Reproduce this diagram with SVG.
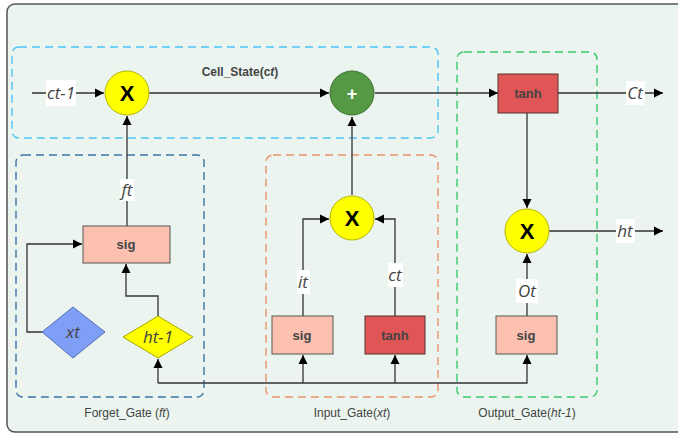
<svg xmlns="http://www.w3.org/2000/svg" width="678" height="434" viewBox="0 0 678 434">
<defs>
<marker id="arr" markerWidth="10" markerHeight="10" refX="9" refY="5" orient="auto" markerUnits="userSpaceOnUse">
<path d="M0,0.5 L9,5 L0,9.5 Z" fill="#000"/>
</marker>
<style>
.edge{fill:none;stroke:#333;stroke-width:1.3}
.box{stroke-width:1.4;fill:none;stroke-dasharray:8 5}
.mul{fill:#ffff00;stroke:#b5b500;stroke-width:1}
.opx{font-family:"Liberation Sans",Arial,sans-serif;font-weight:bold;font-size:22px;fill:#000;text-anchor:middle}
.sig{fill:#fbc0b0;stroke:#555;stroke-width:1}
.tanh{fill:#e05555;stroke:#553333;stroke-width:1}
.bt{font-family:"Liberation Sans",Arial,sans-serif;font-weight:bold;font-size:13px;fill:#444;text-anchor:middle}
.var{font-family:"Open Sans","DejaVu Sans",sans-serif;font-style:italic;font-size:17px;fill:#444;text-anchor:middle}
.lbg{fill:#fff}
.grp{font-family:"Liberation Sans",Arial,sans-serif;font-size:12px;fill:#444;text-anchor:middle}
</style>
</defs>
<rect x="7" y="4" width="690" height="428" rx="8" fill="#ebf4ee" stroke="#555" stroke-width="1.5"/>

<g id="cell_state_box"><rect class="box" x="12" y="47" width="426" height="91" rx="7" stroke="#4fc3f7"/><text class="grp" x="240" y="76" font-weight="bold" font-size="11.5">Cell_State(c<tspan font-style="italic">t</tspan>)</text></g>
<g id="forget_gate_box"><rect class="box" x="16" y="155" width="188" height="242" rx="7" stroke="#3d74a8"/><text class="grp" x="127" y="417">Forget_Gate (<tspan font-style="italic">ft</tspan>)</text></g>
<g id="input_gate_box"><rect class="box" x="266" y="155" width="172" height="242" rx="7" stroke="#e8936b"/><text class="grp" x="352" y="417">Input_Gate(<tspan font-style="italic">xt</tspan>)</text></g>
<g id="output_gate_box"><rect class="box" x="457" y="52" width="140" height="345" rx="7" stroke="#3cc870"/><text class="grp" x="527" y="417">Output_Gate(<tspan font-style="italic">ht-1</tspan>)</text></g>

<g id="connectors">
<line class="edge" x1="32" y1="93" x2="104" y2="93" marker-end="url(#arr)"/>
<rect class="lbg" x="46" y="80" width="30" height="26"/><text class="var" x="61" y="99">ct-1</text>
<line class="edge" x1="149" y1="93" x2="329" y2="93" marker-end="url(#arr)"/>
<line class="edge" x1="375" y1="93" x2="498" y2="93" marker-end="url(#arr)"/>
<line class="edge" x1="558" y1="93" x2="663" y2="93" marker-end="url(#arr)"/>
<rect class="lbg" x="626" y="81" width="19" height="24"/><text class="var" x="635" y="99">Ct</text>
<line class="edge" x1="527" y1="113" x2="527" y2="208" marker-end="url(#arr)"/>
<line class="edge" x1="549" y1="231" x2="663" y2="231" marker-end="url(#arr)"/>
<rect class="lbg" x="616" y="219" width="19" height="24"/><text class="var" x="625" y="237">ht</text>
<line class="edge" x1="527" y1="316" x2="527" y2="254" marker-end="url(#arr)"/>
<rect class="lbg" x="516" y="279" width="22" height="24"/><text class="var" x="527" y="297">Ot</text>
<line class="edge" x1="127" y1="226" x2="127" y2="116" marker-end="url(#arr)"/>
<rect class="lbg" x="120" y="179" width="14" height="22"/><text class="var" x="127" y="196">ft</text>
<polyline class="edge" points="42,332 27,332 27,244 82,244" marker-end="url(#arr)"/>
<polyline class="edge" points="158,316 158,296 126,296 126,264" marker-end="url(#arr)"/>
<polyline class="edge" points="158,383 158,359" marker-end="url(#arr)"/>
<polyline class="edge" points="158,383 527,383 527,355" marker-end="url(#arr)"/>
<line class="edge" x1="303" y1="383" x2="303" y2="355" marker-end="url(#arr)"/>
<line class="edge" x1="395" y1="383" x2="395" y2="355" marker-end="url(#arr)"/>
<polyline class="edge" points="303,316 303,219 329,219" marker-end="url(#arr)"/>
<rect class="lbg" x="297" y="270" width="13" height="24"/><text class="var" x="303" y="288">it</text>
<polyline class="edge" points="395,316 395,219 375,219" marker-end="url(#arr)"/>
<rect class="lbg" x="388" y="263" width="15" height="24"/><text class="var" x="395" y="281">ct</text>
<line class="edge" x1="352" y1="195" x2="352" y2="117" marker-end="url(#arr)"/>
</g>

<g id="mul_forget"><circle class="mul" cx="127" cy="93" r="22"/><text class="opx" x="127" y="101">X</text></g>
<g id="add_cell"><circle cx="352" cy="93" r="22" fill="#559944" stroke="#3c6e30" stroke-width="1"/><text x="352" y="100" font-family="Liberation Sans,Arial,sans-serif" font-weight="bold" font-size="18" fill="#fff" text-anchor="middle">+</text></g>
<g id="mul_input"><circle class="mul" cx="352" cy="218" r="22"/><text class="opx" x="352" y="226">X</text></g>
<g id="mul_output"><circle class="mul" cx="527" cy="231" r="22"/><text class="opx" x="527" y="239">X</text></g>

<g id="tanh_out"><rect class="tanh" x="498" y="74" width="60" height="39"/><text class="bt" x="528" y="98">tanh</text></g>
<g id="sig_forget"><rect class="sig" x="83" y="226" width="87" height="37"/><text class="bt" x="126" y="249">sig</text></g>
<g id="sig_input"><rect class="sig" x="272" y="316" width="61" height="38"/><text class="bt" x="302" y="340">sig</text></g>
<g id="tanh_input"><rect class="tanh" x="365" y="316" width="60" height="38"/><text class="bt" x="395" y="340">tanh</text></g>
<g id="sig_output"><rect class="sig" x="496" y="316" width="61" height="38"/><text class="bt" x="526" y="340">sig</text></g>

<g id="xt"><polygon points="42,332 73,307 105,332 73,358" fill="#7f9ef5" stroke="#5570b8" stroke-width="1"/><text class="var" x="73" y="338">xt</text></g>
<g id="ht_1"><polygon points="123,337 158,316 193,337 158,358" fill="#ffff00" stroke="#a8a800" stroke-width="1"/><text class="var" x="158" y="343">ht-1</text></g>
</svg>
